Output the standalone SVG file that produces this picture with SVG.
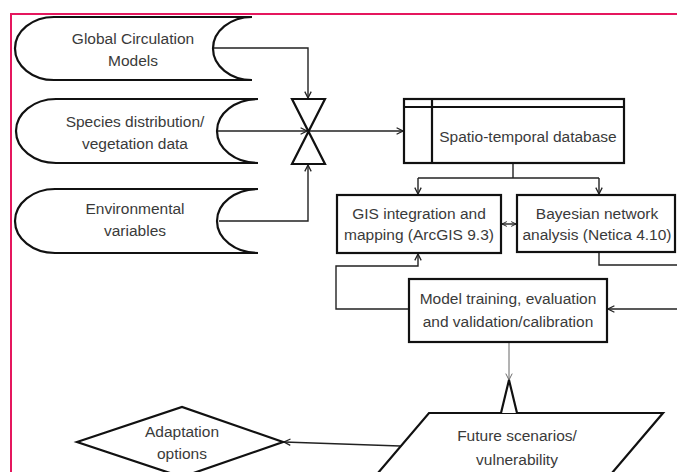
<svg xmlns="http://www.w3.org/2000/svg" width="677" height="472" viewBox="0 0 677 472">
<style>
.shape{fill:#fff;stroke:#111;stroke-width:2.2;stroke-linejoin:miter}
.conn{fill:none;stroke:#222;stroke-width:1.4}
.thin{fill:none;stroke:#666;stroke-width:1}
text{font-family:"Liberation Sans",Arial,sans-serif;font-size:15.5px;fill:#3a3a3a;text-anchor:middle}
</style>
<defs>
<marker id="arr" viewBox="0 0 10 10" refX="9" refY="5" markerWidth="8" markerHeight="8" markerUnits="userSpaceOnUse" orient="auto-start-reverse">
<path d="M1,1 L9,5 L1,9" fill="none" stroke="#222" stroke-width="1.6"/>
</marker>
<marker id="arrs" viewBox="0 0 10 10" refX="9" refY="5" markerWidth="6" markerHeight="6" markerUnits="userSpaceOnUse" orient="auto-start-reverse">
<path d="M1,1 L9,5 L1,9" fill="none" stroke="#222" stroke-width="1.6"/>
</marker>
<marker id="arrg" viewBox="0 0 10 10" refX="9" refY="5" markerWidth="8" markerHeight="8" markerUnits="userSpaceOnUse" orient="auto">
<path d="M1,1 L9,5 L1,9" fill="none" stroke="#666" stroke-width="1.2"/>
</marker>
</defs>
<rect width="677" height="472" fill="#fff"/>
<path d="M11,472 V14 H677" fill="none" stroke="#e5175e" stroke-width="2"/>

<g id="connectors">
<path class="conn" d="M213,48 H308 V98" marker-end="url(#arr)"/>
<path class="conn" d="M217,131 H307" marker-end="url(#arr)"/>
<path class="conn" d="M308,131 H403" marker-end="url(#arr)"/>
<path class="conn" d="M219,221 H308 V165" marker-end="url(#arr)"/>
<path class="conn" d="M513,163 V178"/>
<path class="conn" d="M418,178 H599"/>
<path class="conn" d="M418,178 V194" marker-end="url(#arr)"/>
<path class="conn" d="M599,178 V194" marker-end="url(#arr)"/>
<path class="conn" d="M502,224 H516" marker-start="url(#arrs)" marker-end="url(#arrs)"/>
<path class="conn" d="M599,252 V265 H677"/>
<path class="conn" d="M677,309 H608" marker-end="url(#arr)"/>
<path class="conn" d="M409,309 H336 V266 H418 V254" marker-end="url(#arr)"/>
<path class="thin" d="M509,342 V380" marker-end="url(#arrg)"/>
<path class="conn" d="M400,446 L284,442" marker-end="url(#arr)"/>
</g>

<g id="gcm">
<path class="shape" d="M54,17 H252 A39,31.5 0 0 0 252,80 H54 A39,31.5 0 0 1 54,17 Z"/>
<text x="133" y="44">Global Circulation</text>
<text x="133" y="66">Models</text>
</g>
<g id="species">
<path class="shape" d="M56,99 H258 A41,32 0 0 0 258,163 H56 A40,32 0 0 1 56,99 Z"/>
<text x="135" y="127">Species distribution/</text>
<text x="135" y="149">vegetation data</text>
</g>
<g id="environmental">
<path class="shape" d="M55,189 H258 A41,32 0 0 0 258,253 H55 A40,32 0 0 1 55,189 Z"/>
<text x="135" y="214">Environmental</text>
<text x="135" y="236">variables</text>
</g>
<g id="collate">
<path class="shape" d="M292,99 H325 L292,164 H325 Z"/>
</g>
<g id="database">
<rect class="shape" x="404" y="99" width="220" height="64"/>
<path class="shape" d="M404,107 H624 M432,99 V163" fill="none"/>
<text x="528" y="142">Spatio-temporal database</text>
</g>
<g id="gis">
<rect class="shape" x="337" y="195" width="164" height="58"/>
<text x="419" y="219">GIS integration and</text>
<text x="419" y="240">mapping (ArcGIS 9.3)</text>
</g>
<g id="bayesian">
<rect class="shape" x="517" y="195" width="158" height="57"/>
<text x="597" y="219">Bayesian network</text>
<text x="597" y="240">analysis (Netica 4.10)</text>
</g>
<g id="model">
<rect class="shape" x="409" y="279" width="198" height="63"/>
<text x="508" y="304">Model training, evaluation</text>
<text x="508" y="327">and validation/calibration</text>
</g>
<g id="future">
<polygon class="shape" points="429,413 663,413 589,500 355,500"/>
<polyline class="shape" points="501,413 509,380 517,413" fill="none"/>
<text x="517" y="441">Future scenarios/</text>
<text x="517" y="465">vulnerability</text>
</g>
<g id="adaptation">
<polygon class="shape" points="77,442 182,407 283,442 182,477"/>
<text x="182" y="437">Adaptation</text>
<text x="182" y="459">options</text>
</g>
</svg>
